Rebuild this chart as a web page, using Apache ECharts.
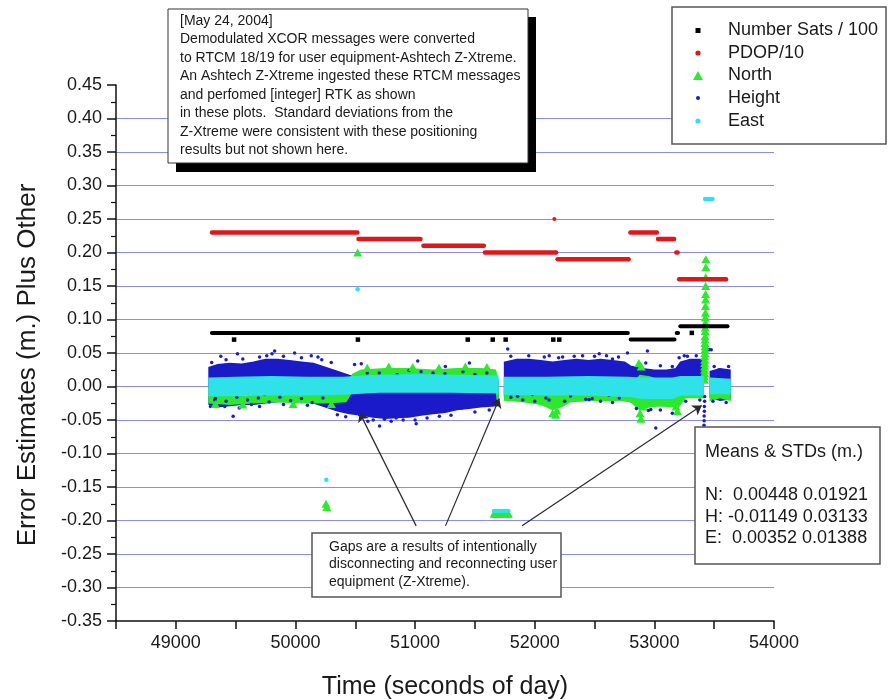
<!DOCTYPE html>
<html><head><meta charset="utf-8">
<script src="https://cdn.jsdelivr.net/npm/echarts@6/dist/echarts.min.js"></script>
<style>html,body{margin:0;padding:0;background:#fff}#c{width:888px;height:700px}</style>
</head><body><div id="c"></div>
<script>
const FONT = '"Liberation Sans", Arial, sans-serif';
const legendNames = ['Number Sats / 100', 'PDOP/10', 'North', 'Height', 'East'];
const noteLines = [
  '[May 24, 2004]',
  'Demodulated XCOR messages were converted',
  'to RTCM 18/19 for user equipment-Ashtech Z-Xtreme.',
  'An Ashtech Z-Xtreme ingested these RTCM messages',
  'and perfomed [integer] RTK as shown',
  'in these plots.  Standard deviations from the',
  'Z-Xtreme were consistent with these positioning',
  'results but not shown here.'
];
const gapLines = [
  'Gaps are a results of intentionally',
  'disconnecting and reconnecting user',
  'equipment (Z-Xtreme).'
];
const statsLines = ['Means & STDs (m.)', '', 'N:  0.00448 0.01921', 'H: -0.01149 0.03133', 'E:  0.00352 0.01388'];

// Number Sats / 100 : constant runs [tStart, tEnd, value] and isolated points [t, value]
const satsRuns = [[49285, 52795, 0.08], [52785, 53185, 0.07], [53170, 53215, 0.08], [53200, 53628, 0.09]];
const satsPoints = [[49487, 0.07], [50522, 0.07], [51440, 0.07], [51649, 0.07], [51757, 0.07], [52155, 0.07], [52205, 0.07], [53313, 0.08]];
// PDOP/10
const pdopRuns = [[49284, 50536, 0.23], [50508, 51064, 0.22], [51051, 51593, 0.21], [51565, 52197, 0.20], [52172, 52804, 0.19],
  [52781, 53040, 0.23], [53012, 53184, 0.22], [53165, 53213, 0.20], [53188, 53618, 0.16]];
const pdopPoints = [[52164, 0.25]];

// Dense clouds: envelope [t, low, high] per continuous run of data
const heightBand = [
  [[49280,-0.026,0.028],[49350,-0.030,0.032],[49450,-0.028,0.034],[49550,-0.026,0.033],[49650,-0.026,0.036],[49750,-0.024,0.040],
   [49850,-0.022,0.040],[49950,-0.022,0.038],[50050,-0.022,0.036],[50150,-0.024,0.034],[50250,-0.030,0.028],[50350,-0.036,0.022],
   [50450,-0.040,0.016],[50550,-0.042,0.012],[50650,-0.045,0.008],[50750,-0.047,0.006],[50850,-0.046,0.006],[50950,-0.045,0.006],
   [51050,-0.042,0.008],[51150,-0.040,0.008],[51250,-0.038,0.008],[51350,-0.034,0.008],[51450,-0.032,0.010],[51550,-0.030,0.010],[51690,-0.028,0.008]],
  [[51750,-0.012,0.036],[51850,-0.014,0.040],[51950,-0.015,0.040],[52050,-0.015,0.038],[52150,-0.016,0.036],[52250,-0.016,0.038],
   [52350,-0.015,0.040],[52450,-0.017,0.038],[52550,-0.017,0.040],[52650,-0.018,0.038],[52750,-0.018,0.036],[52800,-0.022,0.030],
   [52900,-0.026,0.026],[53000,-0.028,0.024],[53100,-0.028,0.024],[53180,-0.026,0.026],[53220,-0.016,0.036],[53300,-0.014,0.040],[53405,-0.016,0.040]],
  [[53470,-0.016,0.022],[53550,-0.020,0.026],[53630,-0.018,0.024]]
];
const northBand = [
  [[49280,-0.024,-0.004],[49450,-0.026,-0.004],[49650,-0.024,-0.004],[49850,-0.022,-0.004],[50050,-0.024,-0.004],[50250,-0.024,-0.004],
   [50420,-0.022,-0.002],[50480,-0.004,0.018],[50550,0.008,0.024],[50750,0.010,0.026],[50950,0.010,0.026],[51150,0.010,0.024],
   [51350,0.010,0.026],[51550,0.010,0.026],[51670,0.008,0.024],[51690,-0.020,0.010]],
  [[51750,-0.020,-0.004],[51900,-0.022,-0.004],[52050,-0.026,-0.004],[52150,-0.034,-0.004],[52220,-0.030,-0.004],[52300,-0.022,-0.006],
   [52500,-0.020,-0.006],[52700,-0.020,-0.006],[52800,-0.022,0.000],[52880,-0.034,0.016],[52960,-0.030,0.014],[53050,-0.028,0.008],
   [53150,-0.030,0.008],[53200,-0.030,0.004],[53260,-0.016,0.002],[53405,-0.016,0.004]],
  [[53470,-0.020,0.010],[53550,-0.016,0.004],[53630,-0.020,0.006]]
];
const eastBand = [
  [[49280,-0.013,0.012],[49500,-0.013,0.013],[49800,-0.012,0.014],[50100,-0.012,0.013],[50400,-0.011,0.013],[50700,-0.008,0.016],
   [51000,-0.008,0.017],[51300,-0.008,0.016],[51690,-0.009,0.015]],
  [[51750,-0.011,0.013],[52100,-0.012,0.013],[52450,-0.012,0.014],[52780,-0.014,0.013],[52900,-0.017,0.012],[53150,-0.017,0.012],
   [53220,-0.012,0.014],[53405,-0.012,0.014]],
  [[53470,-0.010,0.012],[53630,-0.010,0.010]]
];

// Individual points
const heightPoints = [
  [49376,0.045],[49515,0.049],[49479,-0.0445],[49826,0.053],[49804,0.049],[50132,0.046],[50188,0.044],[50299,0.036],[50494,0.033],
  [50550,0.034],[50494,-0.037],[50536,-0.042],[50703,-0.059],[50744,-0.049],[50605,-0.052],[49409,-0.03],[49326,-0.02],[49632,-0.027],[49993,0.05],
  [51022,0.038],[51454,0.035],[51009,-0.0555],[50842,-0.047],[51203,-0.0445],[51392,-0.032],[51253,0.030],[51774,0.056],[52121,0.046],
  [52233,0.044],[52036,0.036],[51857,-0.0146],[52094,-0.017],[52330,0.045],[52427,-0.019],
  [52539,0.0487],[52650,0.041],[52775,0.05],[52942,0.053],[52928,0.035],[53012,-0.062],[52970,-0.0345],[52455,-0.0195],[52706,-0.017],
  [53207,0.043],[53276,0.045],[53262,-0.022],[53332,0.035],[53540,0.025],[53582,0.023],
  [53445,0.055],[53460,0.055],[53475,0.055],
  [53420,-0.015],[53420,-0.022],[53418,-0.03],[53418,-0.037],[53416,-0.044],[53416,-0.051],[53415,-0.058],
  [49300,0.036],[49420,0.040],[49560,0.041],[49700,0.044],[49760,0.046],[49900,0.045],[50050,0.043],[50220,0.040],
  [49290,-0.03],[49530,-0.032],[49700,-0.03],[49900,-0.027],[50100,-0.028],[50350,-0.042],[50420,-0.045],
  [50650,-0.05],[50800,-0.052],[50900,-0.05],[51000,-0.05],[51100,-0.047],[51300,-0.043],[51500,-0.038],[51620,-0.035],
  [50700,0.02],[50950,0.024],[51150,0.02],[51400,0.022],[51600,0.02],
  [51800,0.045],[51950,0.046],[52080,0.044],[52200,0.043],[52400,0.046],[52500,0.045],[52600,0.046],[52700,0.044],
  [51900,-0.02],[52000,-0.022],[52250,-0.022],[52550,-0.022],[52650,-0.024],[52850,-0.033],[52950,-0.036],[53050,-0.035],[53150,-0.04],
  [52870,0.034],[53050,0.031],[53150,0.03],[53250,0.046],[53350,0.046],[53380,-0.02],
  [53490,-0.022],[53600,-0.024],[53500,0.03],[53620,0.03],
  [49330,-0.018],[49420,-0.022],[49510,-0.016],[49600,-0.020],[49690,-0.017],[49780,-0.023],[49870,-0.016],[49960,-0.021],
  [50050,-0.018],[50140,-0.024],[50230,-0.017],[49380,-0.011],[49740,-0.012],[50180,-0.010],
  [51800,-0.016],[51980,-0.012],[52120,-0.020],[52300,-0.014],[52480,-0.018],[52620,-0.013],
  [50600,0.020],[50850,0.018],[51050,0.022],[51250,0.019],[51500,0.018]
];
const northPoints = [
  [50520,0.200],[50255,-0.175],[50262,-0.180],
  [51660,-0.19],[51675,-0.19],[51690,-0.19],[51705,-0.19],[51720,-0.19],[51735,-0.19],[51750,-0.19],[51765,-0.19],[51780,-0.19],
  [53430,0.19],[53430,0.178],[53429,0.163],[53429,0.15],[53428,0.138],[53428,0.13],[53427,0.12],[53427,0.11],[53426,0.103],
  [53426,0.095],[53425,0.088],[53425,0.083],[53424,0.075],[53424,0.07],[53423,0.065],[53423,0.06],[53422,0.055],[53422,0.05],
  [53421,0.045],[53421,0.04],[53420,0.035],[53420,0.03],[53419,0.025],[53419,0.02],[53418,0.015],[53418,0.01],
  [52150,-0.04],[52175,-0.042],[52185,-0.036],[52887,-0.048],[52880,-0.04],[53193,-0.037],[52905,-0.03],[53180,-0.03],
  [52890,0.03],[52870,0.035],
  [50600,0.028],[50780,0.030],[50980,0.029],[51200,0.028],[51420,0.030],[51600,0.029],
  [49330,-0.026],[49560,-0.027],[49980,-0.026],[50300,-0.026]
];
const eastPoints = [
  [50520,0.145],[50258,-0.139],
  [51660,-0.186],[51675,-0.186],[51690,-0.186],[51705,-0.186],[51720,-0.186],[51735,-0.186],[51750,-0.186],[51765,-0.186],[51780,-0.186],
  [53425,0.28],[53440,0.28],[53455,0.28],[53470,0.28],[53485,0.28]
];
// arrows from the gap note to the gaps: [tailT, tailV, tipT, tipV]
const gapArrows = [[51009,-0.208,50536,-0.039],[51254,-0.208,51704,-0.018],[51894,-0.208,53396,-0.0285]];

const colors = { sats: '#000000', pdop: '#e0161a', north: '#2ee82e', height: '#1a1ac8', east: '#2fe2e8' };

function bandSeries(name, segments, color, z) {
  return {
    type: 'custom', name, z, silent: true, clip: true,
    data: segments.map((seg, i) => [seg[0][0], seg[0][1], i]),
    encode: { x: 0, y: 1 },
    renderItem: (params, api) => {
      const seg = segments[api.value(2)];
      const top = seg.map(p => api.coord([p[0], p[2]]));
      const bot = seg.slice().reverse().map(p => api.coord([p[0], p[1]]));
      return { type: 'polygon', shape: { points: top.concat(bot) }, style: { fill: color, stroke: color, lineWidth: 2 } };
    }
  };
}
function runSeries(name, runs, color, h, z) {
  return {
    type: 'custom', name, z, silent: true, clip: true,
    data: runs, encode: { x: [0, 1], y: 2 },
    renderItem: (params, api) => {
      const a = api.coord([api.value(0), api.value(2)]);
      const b = api.coord([api.value(1), api.value(2)]);
      return { type: 'rect', shape: { x: a[0], y: a[1] - h / 2, width: b[0] - a[0], height: h, r: h / 2 }, style: { fill: color } };
    }
  };
}
function scatter(name, data, symbol, size, color, z) {
  return { type: 'scatter', name, data, symbol, symbolSize: size, z, silent: true, itemStyle: { color, opacity: 1 } };
}

const chart = echarts.init(document.getElementById('c'), null, { renderer: 'canvas' });

const graphics = [];
// note box with shadow
graphics.push({ type: 'rect', shape: { x: 176, y: 17, width: 360, height: 155 }, style: { fill: '#000' }, z: 100 });
graphics.push({ type: 'rect', shape: { x: 168, y: 9, width: 360, height: 154 }, style: { fill: '#fff', stroke: '#333', lineWidth: 1 }, z: 101 });
noteLines.forEach((t, i) => graphics.push({ type: 'text', x: 180, y: 21 + i * 18.5, z: 102,
  style: { text: t, font: '14px ' + FONT, fill: '#1a1a1a', verticalAlign: 'middle' } }));
// legend box
graphics.push({ type: 'rect', shape: { x: 672, y: 7, width: 214, height: 137 }, style: { fill: '#fff', stroke: '#555', lineWidth: 1.5 }, z: 100 });
const legRowY = [30.5, 53, 75.5, 98, 121];
graphics.push({ type: 'rect', shape: { x: 695.5, y: legRowY[0] - 2.5, width: 5, height: 5 }, style: { fill: colors.sats }, z: 101 });
graphics.push({ type: 'circle', shape: { cx: 698, cy: legRowY[1], r: 2.6 }, style: { fill: colors.pdop }, z: 101 });
graphics.push({ type: 'polygon', shape: { points: [[693, legRowY[2] + 4.5], [698, legRowY[2] - 4.5], [703, legRowY[2] + 4.5]] }, style: { fill: colors.north }, z: 101 });
graphics.push({ type: 'circle', shape: { cx: 698, cy: legRowY[3], r: 2 }, style: { fill: colors.height }, z: 101 });
graphics.push({ type: 'circle', shape: { cx: 698, cy: legRowY[4], r: 2.6 }, style: { fill: colors.east }, z: 101 });
legendNames.forEach((t, i) => graphics.push({ type: 'text', x: 728, y: legRowY[i], z: 101,
  style: { text: t, font: '18px ' + FONT, fill: '#1a1a1a', verticalAlign: 'middle' } }));
// stats box
graphics.push({ type: 'rect', shape: { x: 695, y: 427, width: 185, height: 137 }, style: { fill: '#fff', stroke: '#555', lineWidth: 1.5 }, z: 100 });
statsLines.forEach((t, i) => graphics.push({ type: 'text', x: 705, y: 452 + i * 21.6, z: 101,
  style: { text: t, font: '18px ' + FONT, fill: '#1a1a1a', verticalAlign: 'middle' } }));
// gap note box
graphics.push({ type: 'rect', shape: { x: 312, y: 533, width: 249, height: 64 }, style: { fill: '#fff', stroke: '#555', lineWidth: 1.5 }, z: 100 });
gapLines.forEach((t, i) => graphics.push({ type: 'text', x: 329, y: 547 + i * 17.5, z: 101,
  style: { text: t, font: '14px ' + FONT, fill: '#1a1a1a', verticalAlign: 'middle' } }));

const arrowSeries = {
  type: 'scatter', name: 'arrows', data: [], z: 20, silent: true,
  markLine: {
    silent: true, symbol: ['none', 'arrow'], symbolSize: 9, animation: false,
    label: { show: false }, emphasis: { disabled: true },
    lineStyle: { color: '#2a2a2a', width: 1.2, type: 'solid' },
    data: gapArrows.map(a => [{ coord: [a[0], a[1]] }, { coord: [a[2], a[3]] }])
  }
};

chart.setOption({
  animation: false,
  backgroundColor: '#fff',
  textStyle: { fontFamily: FONT },
  grid: { left: 116, right: 114, top: 85, bottom: 79, containLabel: false, outerBoundsMode: 'none' },
  xAxis: {
    type: 'value', min: 48500, max: 54000, interval: 500,
    name: 'Time (seconds of day)', nameLocation: 'middle', nameGap: 54,
    nameTextStyle: { fontSize: 25, color: '#1a1a1a', fontFamily: FONT },
    axisLine: { onZero: false, lineStyle: { color: '#111', width: 1.5 } },
    axisTick: { inside: false, length: 8, lineStyle: { color: '#111', width: 1.5 } },
    axisLabel: { fontSize: 18, color: '#1a1a1a', margin: 13, fontFamily: FONT,
      formatter: v => (Math.round(v) % 1000 === 0 ? String(Math.round(v)) : '') },
    splitLine: { show: false }
  },
  yAxis: {
    type: 'value', min: -0.35, max: 0.45, interval: 0.05,
    name: 'Error Estimates (m.) Plus Other', nameLocation: 'middle', nameGap: 75, nameRotate: 90,
    nameTextStyle: { fontSize: 26, color: '#1a1a1a', fontFamily: FONT, padding: [0, 24, 0, 0] },
    axisLine: { show: true, onZero: false, lineStyle: { color: '#111', width: 1.5 } },
    axisTick: { show: true, inside: false, length: 9, lineStyle: { color: '#111', width: 1.5 } },
    minorTick: { show: true, splitNumber: 2, length: 5, lineStyle: { color: '#111', width: 1.2 } },
    axisLabel: { fontSize: 18, color: '#1a1a1a', margin: 14, fontFamily: FONT,
      formatter: v => (Math.abs(v) < 1e-9 ? '0.00' : v.toFixed(2)) },
    splitLine: { show: true, showMinLine: false, showMaxLine: false, lineStyle: { color: '#8e8ee0', width: 1 } }
  },
  series: [
    bandSeries('Height band', heightBand, colors.height, 3),
    bandSeries('North band', northBand, colors.north, 4),
    scatter('Height', heightPoints, 'circle', 3.5, colors.height, 5),
    scatter('North', northPoints, 'triangle', [9, 8], colors.north, 6),
    bandSeries('East band', eastBand, colors.east, 7),
    scatter('East', eastPoints, 'circle', 4.5, colors.east, 8),
    runSeries('Number Sats / 100', satsRuns, colors.sats, 4, 9),
    scatter('Sats points', satsPoints, 'rect', 4.5, colors.sats, 9),
    runSeries('PDOP/10', pdopRuns, colors.pdop, 4.5, 10),
    scatter('PDOP points', pdopPoints, 'circle', 4, colors.pdop, 10),
    arrowSeries
  ],
  graphic: graphics
});
</script>
</body></html>
